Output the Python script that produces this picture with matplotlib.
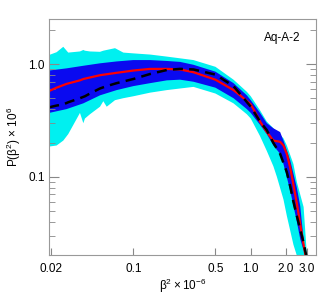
import numpy as np
import matplotlib.pyplot as plt

plt.rcParams['font.family'] = ['Liberation Sans', 'DejaVu Sans']
plt.rcParams['mathtext.default'] = 'regular'

# red line (median)
red_x = [0.0192, 0.0222, 0.0270, 0.0351, 0.0375, 0.052, 0.0721, 0.1, 0.139, 0.193, 0.250,
         0.325, 0.5, 0.713, 0.812, 1.0, 1.055, 1.20, 1.28, 1.37, 1.56, 1.78, 1.90, 2.03,
         2.17, 2.31, 2.47, 2.64, 2.82, 2.95]
red_y = [0.58, 0.62, 0.67, 0.72, 0.74, 0.80, 0.84, 0.88, 0.91, 0.91, 0.90,
         0.85, 0.73, 0.59, 0.53, 0.44, 0.40, 0.31, 0.28, 0.25, 0.21, 0.205, 0.19, 0.16,
         0.12, 0.085, 0.058, 0.038, 0.025, 0.019]

# black dashed line
blk_x = [0.0192, 0.0222, 0.0253, 0.0279, 0.0351, 0.0387, 0.0427, 0.052, 0.0593, 0.0721,
         0.1, 0.139, 0.193, 0.250, 0.325, 0.5, 0.713, 1.0, 1.20, 1.37, 1.56, 1.78, 2.03,
         2.17, 2.31, 2.47, 2.64, 2.82, 3.0]
blk_y = [0.415, 0.43, 0.44, 0.46, 0.50, 0.52, 0.55, 0.61, 0.64, 0.68,
         0.74, 0.82, 0.89, 0.91, 0.90, 0.81, 0.64, 0.42, 0.31, 0.26, 0.20, 0.16, 0.11,
         0.082, 0.060, 0.045, 0.034, 0.026, 0.019]

# dark blue band
blue_x = [0.0192, 0.0270, 0.0375, 0.052, 0.0721, 0.1, 0.139, 0.193, 0.250, 0.325, 0.5,
          0.713, 0.926, 1.0, 1.20, 1.37, 1.56, 1.78, 1.90, 2.17, 2.47, 2.64, 2.91]
blue_hi = [0.88, 0.92, 0.97, 1.02, 1.06, 1.09, 1.09, 1.07, 1.05, 0.99, 0.86,
           0.68, 0.53, 0.48, 0.37, 0.30, 0.27, 0.25, 0.21, 0.14, 0.08, 0.055, 0.02]
blue_lo = [0.37, 0.40, 0.45, 0.53, 0.59, 0.64, 0.68, 0.72, 0.73, 0.70, 0.62,
           0.50, 0.40, 0.37, 0.29, 0.24, 0.19, 0.16, 0.13, 0.075, 0.040, 0.028, 0.02]

# cyan band
cyan_x = [0.0192, 0.0222, 0.0253, 0.0279, 0.0351, 0.0375, 0.0387, 0.0427, 0.052, 0.0555,
          0.0593, 0.0698, 0.0822, 0.1, 0.139, 0.193, 0.325, 0.5, 0.713, 0.926, 1.0, 1.20,
          1.37, 1.56, 1.67, 1.90, 2.03, 2.31, 2.47, 2.82, 3.01]
cyan_hi = [1.21, 1.28, 1.43, 1.27, 1.30, 1.34, 1.32, 1.30, 1.29, 1.32,
           1.34, 1.39, 1.27, 1.25, 1.22, 1.17, 1.09, 0.95, 0.73, 0.57, 0.52, 0.39,
           0.31, 0.27, 0.25, 0.22, 0.19, 0.13, 0.09, 0.054, 0.02]
cyan_lo = [0.186, 0.19, 0.21, 0.24, 0.37, 0.30, 0.33, 0.36, 0.42, 0.47,
           0.42, 0.48, 0.50, 0.52, 0.56, 0.59, 0.63, 0.55, 0.45, 0.36, 0.33, 0.23,
           0.17, 0.124, 0.10, 0.063, 0.045, 0.025, 0.02, 0.02, 0.02]

xticks = [0.02, 0.1, 0.5, 1.0, 2.0, 3.0]
xticklabels = ['0.02', '0.1', '0.5', '1.0', '2.0', '3.0']
yticks = [0.1, 1.0]
yticklabels = ['0.1', '1.0']

fig = plt.figure(figsize=(3.32, 2.95), dpi=100)
ax = fig.add_axes([0.149, 0.136, 0.803, 0.798])

ax.fill(list(cyan_x) + cyan_x[::-1], list(cyan_hi) + cyan_lo[::-1], color='#00f0f0', lw=0)
ax.fill(list(blue_x) + blue_x[::-1], list(blue_hi) + blue_lo[::-1], color='#0a0af0', lw=0)
ax.plot(red_x, red_y, color='red', lw=1.6)
ax.plot(blk_x, blk_y, color='black', lw=1.8, ls=(0, (4, 2.5)))

ax.set_xscale('log')
ax.set_yscale('log')
ax.set_xlim(0.0193, 3.6)
ax.set_ylim(0.0203, 2.5)

ax.set_xticks(xticks)
ax.set_xticklabels(xticklabels)
ax.xaxis.set_minor_locator(plt.NullLocator())
ax.set_yticks(yticks)
ax.set_yticklabels(yticklabels)

ax.tick_params(which='both', direction='in', color='#888888', labelsize=8.5, right=True, top=False)
ax.tick_params(axis='y', which='major', length=7)
ax.tick_params(axis='y', which='minor', length=4)
ax.tick_params(axis='x', which='major', length=5, pad=6)
ax.yaxis.set_minor_formatter(plt.NullFormatter())
for s in ax.spines.values():
    s.set_color('#999999')
    s.set_linewidth(0.8)

ax.set_xlabel(r'$\beta^2\times10^{-6}$', fontsize=8.5, labelpad=1)
ax.set_ylabel(r'P($\beta^2$) $\times$ 10$^6$', fontsize=8.5, labelpad=4)
ax.text(0.94, 0.92, 'Aq-A-2', transform=ax.transAxes, ha='right', va='center', fontsize=8.5)

fig.savefig('out.png', dpi=100)
